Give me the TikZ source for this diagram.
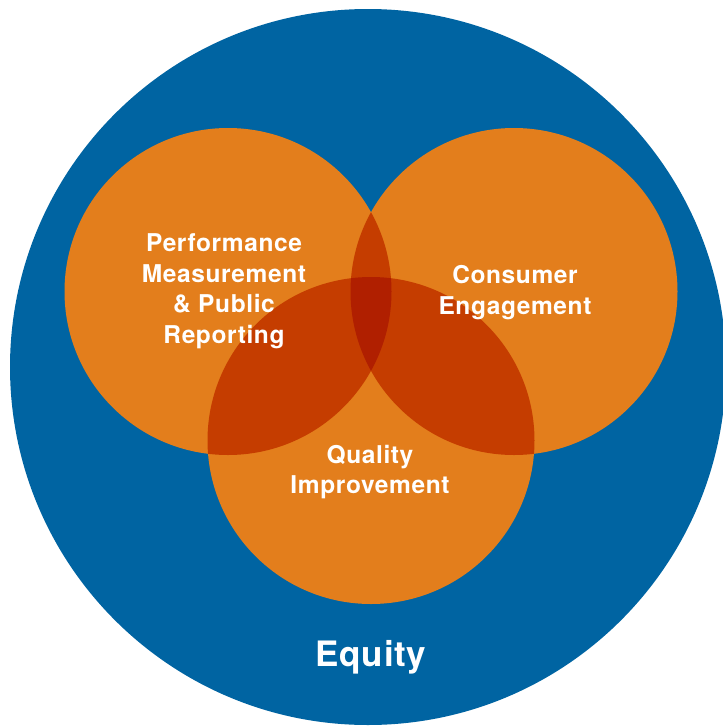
\documentclass[tikz,border=0pt]{standalone}
\usepackage{fontspec}
\setmainfont{TeX Gyre Heros}
\usepackage{xcolor}
\definecolor{equityblue}{RGB}{0,100,162}
\definecolor{petal}{RGB}{227,126,28}
\definecolor{pairdark}{RGB}{197,61,0}
\definecolor{tripledark}{RGB}{176,31,0}
\newfontfamily\labelfont[LetterSpace=2.5]{TeX Gyre Heros}
\newfontfamily\equityfont[LetterSpace=2]{TeX Gyre Heros}

\begin{document}
\begin{tikzpicture}[x=1pt,y=-1pt]
		\tikzset{outer/.style = {shape=circle,fill=equityblue,inner sep=0,minimum size=716pt}}
		\tikzset{petalc/.style = {shape=circle,fill=petal,inner sep=0,minimum size=327pt}}
		\tikzset{label/.style = {text=white,align=center,inner sep=0,font=\labelfont\bfseries\fontsize{24.5}{30.5}\selectfont}}
		\useasboundingbox (0,0) rectangle (723,726);
		\node[outer] (equity) at (368,367) {};
		\node[petalc] (perf) at (228,291.5) {};
		\node[petalc] (cons) at (514,291.5) {};
		\node[petalc] (qual) at (371,440.5) {};
		%overlaps
		\begin{scope}
			\clip (perf.center) circle (163.5);
			\fill[pairdark] (cons.center) circle (163.5);
			\fill[pairdark] (qual.center) circle (163.5);
		\end{scope}
		\begin{scope}
			\clip (cons.center) circle (163.5);
			\fill[pairdark] (qual.center) circle (163.5);
		\end{scope}
		\begin{scope}
			\clip (perf.center) circle (163.5);
			\clip (cons.center) circle (163.5);
			\fill[tripledark] (qual.center) circle (163.5);
		\end{scope}
		%labels
		\node[label] (perflabel) at (224,291) {Performance\\Measurement\\\& Public\\Reporting};
		\node[label] (conslabel) at (515,292.5) {Consumer\\Engagement};
		\node[label] (quallabel) at (370,472) {Quality\\Improvement};
		\node[text=white,inner sep=0,font=\equityfont\bfseries\fontsize{35}{40}\selectfont] (equitylabel) at (371,657.5) {Equity};
\end{tikzpicture}
\end{document}
